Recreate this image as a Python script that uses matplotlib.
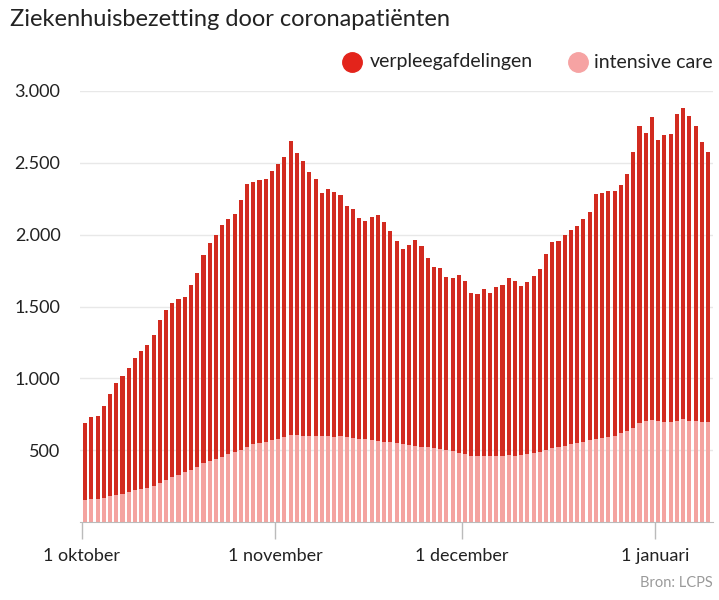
import numpy as np
import matplotlib.pyplot as plt
from matplotlib.lines import Line2D

plt.rcParams['font.family'] = ['Lato', 'DejaVu Sans']

# ---------------- data ----------------
# days from 1 oktober (index 0) to 9 januari (index 100)
totaal = [686, 728, 737, 806, 889, 970, 1016, 1071, 1141, 1189,
          1233, 1300, 1408, 1477, 1524, 1551, 1563, 1648, 1731, 1858,
          1939, 2001, 2066, 2107, 2144, 2243, 2354, 2370, 2382, 2385,
          2442, 2490, 2544, 2653, 2571, 2511, 2439, 2384, 2291, 2317,
          2294, 2273, 2197, 2176, 2118, 2095, 2125, 2140, 2085, 2029,
          1955, 1897, 1927, 1964, 1920, 1838, 1776, 1768, 1707, 1697,
          1718, 1678, 1596, 1586, 1620, 1595, 1635, 1652, 1697, 1680,
          1640, 1673, 1715, 1763, 1867, 1950, 1957, 1999, 2032, 2059,
          2107, 2157, 2284, 2289, 2306, 2301, 2343, 2425, 2575, 2753,
          2706, 2820, 2659, 2695, 2700, 2837, 2883, 2826, 2757, 2645,
          2573]
intensive_care = [156, 160, 158, 168, 178, 188, 196, 206, 222, 232,
                  238, 250, 270, 290, 310, 325, 345, 365, 385, 410,
                  425, 440, 455, 470, 485, 500, 520, 540, 550, 560,
                  568, 578, 590, 605, 605, 600, 600, 598, 596, 598,
                  594, 598, 590, 585, 580, 575, 570, 565, 560, 555,
                  548, 543, 538, 532, 525, 520, 515, 508, 502, 492,
                  480, 470, 462, 458, 460, 462, 460, 462, 465, 462,
                  465, 470, 478, 490, 500, 513, 520, 530, 545, 552,
                  560, 568, 576, 583, 594, 600, 617, 635, 652, 686,
                  700, 712, 700, 698, 698, 705, 714, 705, 700, 698,
                  698]
maand_labels = ['1 oktober', '1 november', '1 december', '1 januari']
maand_dag = [0, 31, 61, 92]   # index of first day of month
y_ticks = [500, 1000, 1500, 2000, 2500, 3000]

# ---------------- plot ----------------
c_verpleeg = '#d22b20'
c_ic = '#f4a3a0'

totaal = np.array(totaal)
ic = np.array(intensive_care)
verpleeg = totaal - ic
x = np.arange(len(totaal))

fig = plt.figure(figsize=(7.19, 6.0), dpi=100)
ax = fig.add_axes([80/719, 78/600, 633/719, 431/600])

ax.bar(x, ic, width=0.66, color=c_ic, zorder=2)
ax.bar(x, verpleeg, bottom=ic, width=0.66, color=c_verpleeg, zorder=2)

ax.set_ylim(0, 3000)
ax.set_xlim(-0.82, 100.8)
ax.set_yticks(y_ticks)
ax.set_yticklabels([f'{v:,}'.replace(',', '.') for v in y_ticks], fontsize=13, color='#222222')
ax.yaxis.grid(True, color='#e8e8e8', linewidth=1, zorder=0)
ax.tick_params(axis='y', length=0, pad=14)

ax.set_xticks(np.array(maand_dag) - 0.5)
ax.set_xticklabels(maand_labels, fontsize=13, color='#222222')
ax.tick_params(axis='x', length=12, width=1, color='#bbbbbb', pad=7)

for s in ['top', 'right', 'left']:
    ax.spines[s].set_visible(False)
ax.spines['bottom'].set_color('#bbbbbb')

fig.text(10/719, 1 - 19/600, 'Ziekenhuisbezetting door coronapatiënten',
         fontsize=17, va='center', ha='left', color='#222222')

# legend
for cx, tx, kleur, label in [(352, 370, '#e3241b', 'verpleegafdelingen'),
                             (578, 594, '#f6a3a3', 'intensive care')]:
    fig.add_artist(Line2D([cx/719], [1 - 62/600], marker='o', markersize=14,
                          color=kleur, linestyle='none', transform=fig.transFigure))
    fig.text(tx/719, 1 - 62/600, label, fontsize=14, va='center',
             ha='left', color='#222222')

fig.text(713/719, 1 - 583/600, 'Bron: LCPS', fontsize=10.5, va='center',
         ha='right', color='#9a9a9a')

fig.savefig('out.png', dpi=100)
